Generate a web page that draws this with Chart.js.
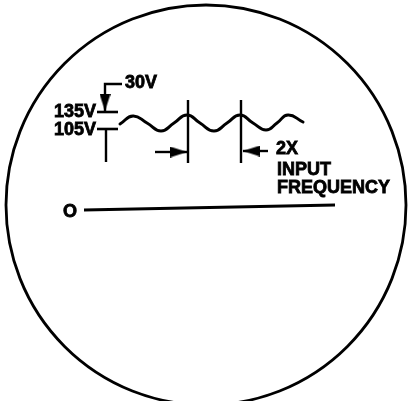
<!DOCTYPE html>
<html>
<head>
<meta charset="utf-8">
<script src="https://cdn.jsdelivr.net/npm/chart.js@4/dist/chart.umd.min.js"></script>
<style>
html,body{margin:0;padding:0;background:#fff;}
canvas{display:block;}
</style>
</head>
<body>
<canvas id="c" width="408" height="401"></canvas>
<script>
// ---- data (screen units: x = time, y = deflection above zero trace) ----
const waveX = [120,133,147,161,174,187,200,214,227,240,253,266,277,288,303];
const waveY = [84,92,85,77,85,93,85,77,85,93,85,78,85,93,86];

const zeroX = [84, 335];
const zeroY = [-2, 3];

const markerX = [188, 241];
const markerTop = 108;
const markerBottom = 45;

const arrowLeftX = [155, 187];
const arrowLeftY = [56, 56];
const arrowRightX = [268, 243];
const arrowRightY = [57, 57];

const leaderX = [122, 105, 105];
const leaderY = [124, 124, 97];
const bar135X = [97, 118];
const bar135Y = [96, 96];
const tBarX = [97, 118];
const tBarY = [79, 79];
const tStemX = [106, 106];
const tStemY = [79, 46];

const tipX = [187, 243, 105];
const tipY = [56, 57, 97];
const tipAngle = [0, 180, 90];

const screenCenterX = [206];
const screenCenterY = [3];

const labelText = ["30V", "135V", "105V", "2X", "INPUT", "FREQUENCY", "O"];
const labelX = [125, 96, 96, 276, 277, 277, 70];
const labelY = [125, 96, 78, 59, 38, 20, -4];
const labelAlign = ["left", "right", "right", "left", "left", "left", "center"];

// ---- helpers ----
const pts = (xs, ys) => xs.map((x, i) => ({x: x, y: ys[i]}));
function lineSet(data, w) {
  return {data: data, showLine: true, borderColor: '#000', borderWidth: w,
    pointRadius: 0, tension: 0, clip: false, borderCapStyle: 'butt'};
}
function arrowHead(len, wid) {
  const c = document.createElement('canvas');
  c.width = len * 2; c.height = wid;
  const g = c.getContext('2d');
  g.fillStyle = '#000';
  g.beginPath(); g.moveTo(0, 0); g.lineTo(len, wid / 2); g.lineTo(0, wid); g.closePath(); g.fill();
  return c;
}
const head = arrowHead(17, 11);

const datasets = [];
const wave = lineSet(pts(waveX, waveY), 3);
wave.tension = 0.5;
wave.borderCapStyle = 'round';
datasets.push(wave);
datasets.push(lineSet(pts(zeroX, zeroY), 3));
markerX.forEach(x => datasets.push(lineSet(pts([x, x], [markerTop, markerBottom]), 2.4)));
datasets.push(lineSet(pts(arrowLeftX, arrowLeftY), 2.4));
datasets.push(lineSet(pts(arrowRightX, arrowRightY), 2.4));
datasets.push(lineSet(pts(leaderX, leaderY), 2.4));
datasets.push(lineSet(pts(bar135X, bar135Y), 2.6));
datasets.push(lineSet(pts(tBarX, tBarY), 2.6));
datasets.push(lineSet(pts(tStemX, tStemY), 2.4));
datasets.push({data: pts(tipX, tipY), showLine: false, pointStyle: head,
  pointRotation: tipAngle, pointRadius: 10, clip: false});
datasets.push({data: pts(screenCenterX, screenCenterY), showLine: false, pointStyle: 'circle',
  pointRadius: 200, pointBorderWidth: 2.8, pointBorderColor: '#000',
  pointBackgroundColor: 'rgba(0,0,0,0)', clip: false});

const labelPlugin = {
  id: 'labels',
  afterDatasetsDraw(chart) {
    const ctx = chart.ctx, xs = chart.scales.x, ys = chart.scales.y;
    ctx.save();
    ctx.fillStyle = '#000';
    ctx.strokeStyle = '#000';
    ctx.lineWidth = 0.8;
    ctx.font = 'bold 18px "Liberation Sans", Arial, sans-serif';
    ctx.textBaseline = 'middle';
    labelText.forEach((t, i) => {
      ctx.textAlign = labelAlign[i];
      const px = xs.getPixelForValue(labelX[i]), py = ys.getPixelForValue(labelY[i]);
      ctx.fillText(t, px, py);
      ctx.strokeText(t, px, py);
    });
    ctx.restore();
  }
};
const bgPlugin = {
  id: 'bg',
  beforeDraw(chart) {
    const ctx = chart.ctx;
    ctx.save(); ctx.fillStyle = '#fff'; ctx.fillRect(0, 0, chart.width, chart.height); ctx.restore();
  }
};

new Chart(document.getElementById('c'), {
  type: 'scatter',
  data: {datasets: datasets},
  options: {
    responsive: false,
    animation: false,
    events: [],
    layout: {padding: 0, autoPadding: false},
    plugins: {legend: {display: false}, tooltip: {enabled: false}},
    scales: {
      x: {type: 'linear', min: 0, max: 408, display: false},
      y: {type: 'linear', min: -193, max: 208, display: false}
    }
  },
  plugins: [bgPlugin, labelPlugin]
});
</script>
</body>
</html>
